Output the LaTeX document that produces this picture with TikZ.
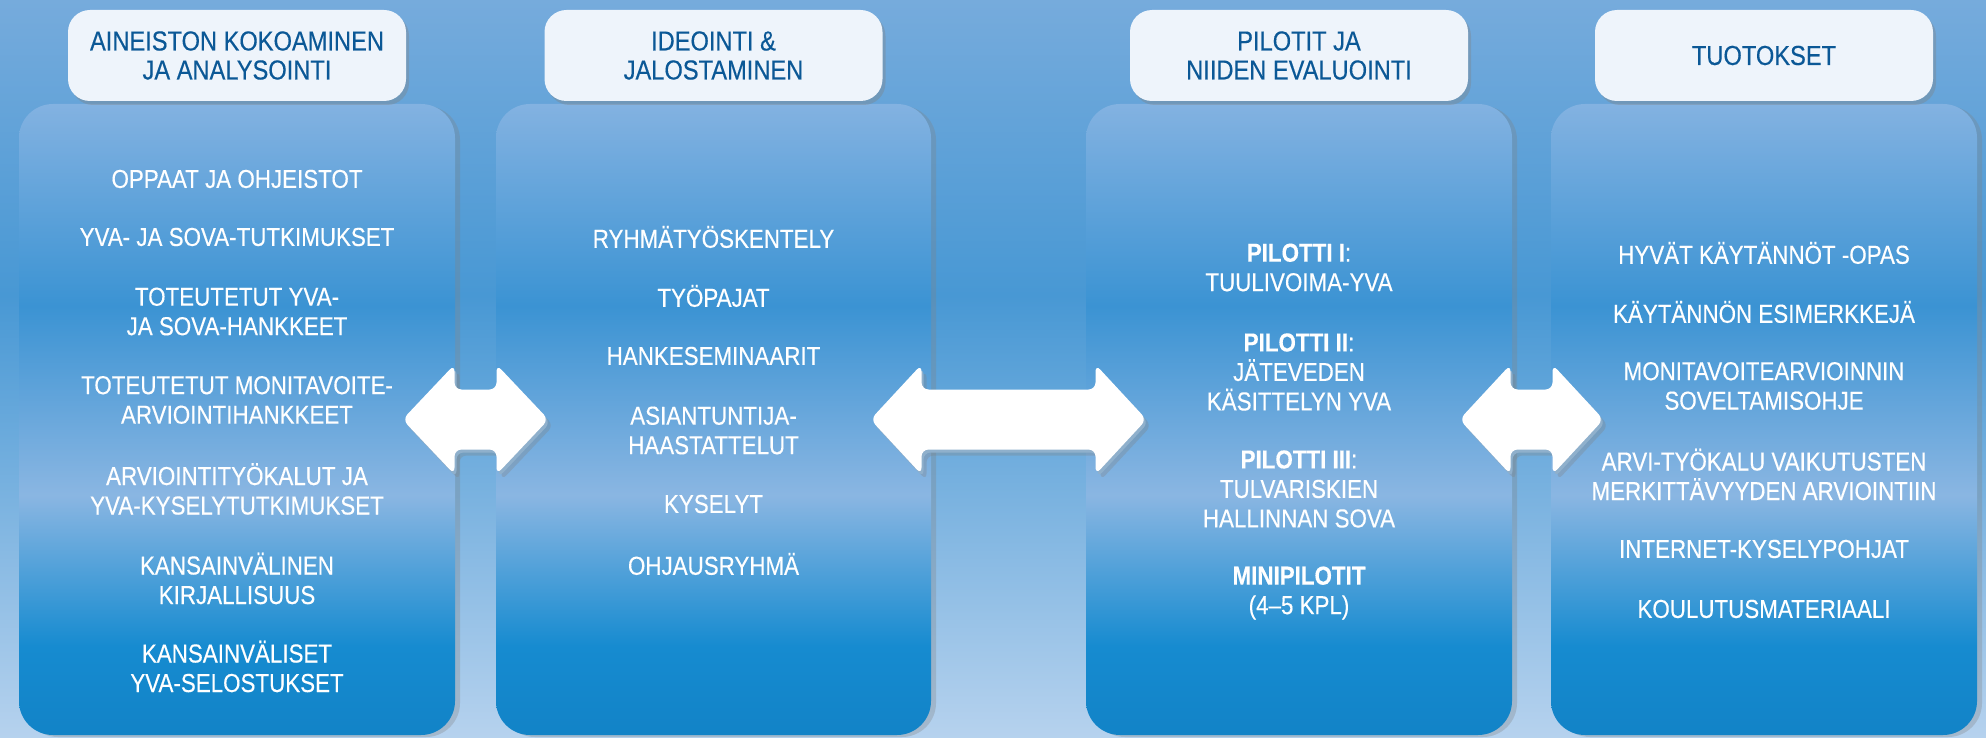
\documentclass[tikz,border=0pt]{standalone}
\usepackage{fontspec}
\setmainfont{Liberation Sans}[FakeStretch=0.86, FakeBold=0.3]
\usetikzlibrary{calc,shadows}

\definecolor{bgtop}{HTML}{76ABDC}
\definecolor{bgmid}{HTML}{4898D4}
\definecolor{bgbot}{HTML}{B6D2EE}
\definecolor{pnltop}{HTML}{83B2E1}
\definecolor{pnlmid}{HTML}{3B93D3}
\definecolor{pnlband}{HTML}{8AB6E2}
\definecolor{pnllow}{HTML}{168BD0}
\definecolor{pnlbot}{HTML}{1283C7}
\definecolor{headfill}{HTML}{EEF4FB}
\definecolor{headtext}{HTML}{0B5896}
\definecolor{arrowedge}{HTML}{8FB0CC}

\pgfdeclareverticalshading{bgshade}{100bp}{color(0bp)=(bgbot); color(25bp)=(bgbot);
  color(55bp)=(bgmid); color(75bp)=(bgtop); color(100bp)=(bgtop)}
\pgfdeclareverticalshading{panelshade}{100bp}{color(0bp)=(pnlbot); color(25bp)=(pnlbot);
  color(32bp)=(pnllow); color(44bp)=(pnlband); color(59bp)=(pnlmid); color(75bp)=(pnltop);
  color(100bp)=(pnltop)}

\newcommand{\dblpath}[2]{(-#1,0) -- (-#2,-55) -- (-#2,-30) -- (#2,-30) -- (#2,-55) -- (#1,0)
  -- (#2,55) -- (#2,30) -- (-#2,30) -- (-#2,55) -- cycle}

\begin{document}
\begin{tikzpicture}[x=1pt,y=-1pt,
    header/.style={rounded corners=22pt, minimum width=338pt, minimum height=91pt,
      fill=headfill, text=headtext, align=center, font=\fontsize{27.5}{29}\selectfont,
      drop shadow={shadow xshift=3pt, shadow yshift=-4pt, opacity=.35}},
    panel/.style={rounded corners=34pt, minimum height=631pt, shade, shading=panelshade,
      drop shadow={shadow xshift=5pt, shadow yshift=-2pt, opacity=.3}},
    item/.style={text=white, align=center, font=\fontsize{26}{29.5}\selectfont},
    dblarrow/.style={fill=white, rounded corners=7pt},
    arrowbevel/.style={fill=arrowedge, rounded corners=7pt, xshift=2pt, yshift=-3pt,
      drop shadow={shadow xshift=3pt, shadow yshift=-3pt, opacity=.3}}
  ]
  \useasboundingbox (0,0) rectangle (1986,738);
  \shade[shading=bgshade] (0,0) rectangle (1986,738);

  % the four columns
  \node[panel, minimum width=436pt] (p1) at (237,419.5) {};
  \node[panel, minimum width=435pt] (p2) at (713.5,419.5) {};
  \node[panel, minimum width=426pt] (p3) at (1299,419.5) {};
  \node[panel, minimum width=426pt] (p4) at (1764,419.5) {};

  \node[header] (h1) at (p1 |- 0,55.5) {AINEISTON KOKOAMINEN\\JA ANALYSOINTI};
  \node[header] (h2) at (p2 |- 0,55.5) {IDEOINTI \&\\JALOSTAMINEN};
  \node[header] (h3) at (p3 |- 0,55.5) {PILOTIT JA\\NIIDEN EVALUOINTI};
  \node[header] (h4) at (p4 |- 0,55.5) {TUOTOKSET};

  % double arrows between the columns
  \foreach \a/\b/\len/\nn [count=\i] in {p1/p2/73/21, p2/p3/138/87, p3/p4/72/21}{
    \coordinate (m\i) at ($(\a.east)!.5!(\b.west)$);
    \begin{scope}[shift={(m\i)}]
      \fill[arrowbevel] \dblpath{\len}{\nn};
      \fill[dblarrow] \dblpath{\len}{\nn};
    \end{scope}
  }

  \foreach \yy/\txt [count=\i] in {179/OPPAAT JA OHJEISTOT, 237/YVA- JA SOVA-TUTKIMUKSET,
      311.5/TOTEUTETUT YVA-\\JA SOVA-HANKKEET, 400/TOTEUTETUT MONITAVOITE-\\ARVIOINTIHANKKEET,
      489/ARVIOINTITYÖKALUT JA\\YVA-KYSELYTUTKIMUKSET, 578.5/KANSAINVÄLINEN\\KIRJALLISUUS,
      666.5/KANSAINVÄLISET\\YVA-SELOSTUKSET}
    \node[item] (p1t\i) at (p1 |- 0,\yy) {\txt};

  \foreach \yy/\txt [count=\i] in {237/RYHMÄTYÖSKENTELY, 296/TYÖPAJAT, 356/HANKESEMINAARIT,
      430.5/ASIANTUNTIJA-\\HAASTATTELUT, 504/KYSELYT, 564/OHJAUSRYHMÄ}
    \node[item] (p2t\i) at (p2 |- 0,\yy) {\txt};

  \foreach \yy/\txt [count=\i] in {267.5/\textbf{PILOTTI I}:\\TUULIVOIMA-YVA,
      372/\textbf{PILOTTI II}:\\JÄTEVEDEN\\KÄSITTELYN YVA,
      489/\textbf{PILOTTI III}:\\TULVARISKIEN\\HALLINNAN SOVA,
      593/\textbf{MINIPILOTIT}\\(4–5 KPL)}
    \node[item] (p3t\i) at (p3 |- 0,\yy) {\txt};

  \foreach \yy/\txt [count=\i] in {253/HYVÄT KÄYTÄNNÖT -OPAS, 312/KÄYTÄNNÖN ESIMERKKEJÄ,
      386/MONITAVOITEARVIOINNIN\\SOVELTAMISOHJE,
      474.5/ARVI-TYÖKALU VAIKUTUSTEN\\MERKITTÄVYYDEN ARVIOINTIIN,
      549/INTERNET-KYSELYPOHJAT, 609/KOULUTUSMATERIAALI}
    \node[item] (p4t\i) at (p4 |- 0,\yy) {\txt};
\end{tikzpicture}
\end{document}
